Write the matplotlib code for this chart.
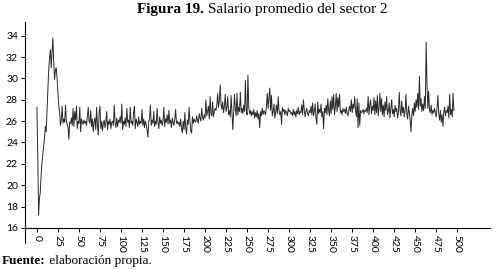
import numpy as np
import matplotlib
matplotlib.use("Agg")
import matplotlib.pyplot as plt

# salario promedio del sector 2 (periodos 0..496)
salario = [
    27.3, 22.7, 17.2, 18.8, 19.3, 21.0, 22.1, 22.9, 23.6, 24.4, 25.5, 25.0, 27.0, 29.0, 30.8,
    31.9, 32.7, 31.0, 32.4, 33.8, 31.5, 29.9, 30.8, 31.0, 30.0, 28.6, 27.5, 26.8, 25.6, 26.1,
    27.4, 25.8, 26.2, 25.9, 27.5, 26.0, 25.7, 25.4, 24.3, 25.9, 25.8, 26.3, 25.6, 27.2, 25.5,
    26.9, 26.1, 27.4, 25.3, 26.0, 25.8, 27.3, 25.0, 26.2, 25.9, 25.7, 26.1, 25.8, 26.0, 25.6,
    26.4, 27.3, 26.0, 25.8, 27.0, 25.5, 26.2, 25.0, 25.9, 26.3, 25.2, 27.3, 25.6, 24.7, 26.8,
    27.4, 25.3, 26.0, 25.1, 25.8, 26.1, 25.4, 25.9, 26.9, 25.2, 26.0, 25.7, 26.2, 25.3, 25.9,
    26.0, 25.6, 27.5, 25.8, 25.4, 26.3, 25.5, 26.1, 25.9, 26.4,
    25.8, 27.6, 25.2, 26.0, 25.7, 26.3, 25.5, 27.2, 25.9, 26.1, 25.4, 27.3, 25.8, 26.0, 25.6,
    26.8, 27.4, 25.3, 26.2, 25.9, 25.5, 26.4, 25.7, 26.0, 25.8,
    27.1, 25.6, 26.2, 25.4, 26.0, 25.7, 25.2, 24.5, 25.9, 26.3, 27.5, 25.6, 26.1, 25.8, 26.9,
    25.5, 26.0, 25.7, 27.2, 25.9, 25.3, 26.4, 25.8, 26.1, 25.6,
    26.0, 27.3, 25.5, 26.2, 25.9, 26.6, 25.7, 27.0, 25.8, 26.1, 25.4, 26.3, 25.9, 25.6, 26.2,
    27.1, 25.8, 26.0, 25.7, 25.9, 25.5, 26.2, 25.3, 24.9, 26.0,
    25.2, 26.8, 25.4, 24.8, 26.1, 25.7, 27.3, 26.0, 25.1, 24.9, 26.4, 25.8, 26.2, 26.0, 25.9,
    26.5, 26.1, 25.8, 26.7, 26.3, 26.0, 27.2, 26.4, 26.1, 26.6,
    26.3, 28.0, 26.5, 26.9, 27.4, 26.2, 28.3, 26.7, 26.5, 27.8, 26.4, 26.9, 27.2, 27.0, 27.5,
    28.6, 27.3, 27.9, 29.4, 27.6, 27.1, 27.8, 26.8, 27.4, 28.5,
    26.9, 27.3, 28.3, 26.6, 27.0, 26.4, 28.4, 26.8, 25.2, 26.9, 28.5, 27.1, 26.5, 28.6, 26.6,
    27.3, 26.9, 28.7, 26.8, 27.2, 26.7, 27.5, 26.9, 29.8, 27.0,
    26.6, 30.3, 27.3, 26.7, 27.0, 26.5, 26.9, 26.6, 27.1, 26.3, 26.8, 26.4, 27.0, 26.2, 26.7,
    25.4, 26.9, 26.5, 27.2, 26.6, 27.0, 26.8, 26.6, 27.4, 28.6,
    27.2, 28.2, 29.1, 27.0, 28.4, 26.5, 26.9, 27.6, 26.3, 26.8, 27.5, 26.7, 28.3, 27.0, 26.6,
    26.9, 25.7, 27.3, 26.9, 27.1, 26.6, 27.0, 26.8, 26.5, 27.2,
    26.9, 27.0, 26.7, 26.8, 26.5, 27.1, 26.6, 26.9, 26.4, 27.0, 26.7, 27.3, 26.6, 26.9, 26.8,
    27.5, 26.6, 28.0, 27.1, 26.4, 26.9, 27.2, 26.7, 26.5, 27.0,
    26.8, 27.4, 26.6, 27.7, 26.5, 26.9, 27.6, 26.3, 25.7, 27.8, 26.7, 27.1, 26.8, 27.6, 26.4,
    26.9, 25.3, 27.2, 26.8, 27.5, 26.6, 28.1, 27.0, 26.5, 27.9,
    26.7, 28.3, 27.1, 28.5, 26.6, 27.4, 28.6, 26.9, 28.2, 27.3, 28.5, 26.8, 27.0, 26.6, 27.2,
    26.9, 27.1, 26.7, 27.3, 26.8, 26.5, 27.0, 27.4, 26.9, 28.0,
    26.8, 27.6, 27.2, 28.3, 27.0, 26.4, 28.1, 25.4, 27.7, 25.6, 27.0, 26.8, 26.9, 27.1, 26.7,
    27.0, 26.9, 27.2, 26.8, 28.3, 26.6, 27.5, 28.0, 26.7, 27.4,
    27.0, 28.2, 26.6, 27.9, 26.8, 28.4, 26.5, 27.3, 28.6, 26.9, 28.1, 26.6, 27.5, 26.4, 27.8,
    27.0, 28.3, 26.6, 26.9, 27.7, 26.3, 27.2, 28.0, 26.7, 27.1,
    26.4, 27.5, 26.9, 27.2, 26.3, 26.8, 28.7, 27.0, 26.5, 27.9, 26.8, 27.3, 26.4, 27.0, 28.5,
    26.7, 26.2, 27.4, 26.8, 26.1, 25.0, 26.6, 27.2, 26.5, 27.7,
    26.9, 28.0, 27.3, 28.6, 27.1, 30.2, 27.4, 28.1, 26.9, 27.6, 27.0, 28.3, 27.2, 33.4, 29.5,
    27.2, 28.8, 27.0, 26.8, 27.5, 26.6, 27.0, 26.8, 27.2, 26.7,
    26.4, 27.3, 28.4, 26.7, 26.1, 27.0, 25.9, 26.6, 25.5, 26.9, 27.3, 26.5, 27.0, 26.8, 27.4,
    26.3, 28.5, 26.6, 27.1, 26.4, 28.6, 27.0,
]
periodos = np.arange(len(salario))
x_ticks = list(range(0, 501, 25))
y_ticks = list(range(16, 35, 2))

fig = plt.figure(figsize=(4.98, 2.70), dpi=100)
ax = fig.add_axes([0.050, 0.156, 0.934, 0.763])

ax.plot(periodos, salario, color="#2a2a2a", linewidth=0.7)

ax.set_xlim(-14.3, 539)
ax.set_ylim(16, 35.3)
ax.set_xticks(x_ticks)
ax.set_xticklabels([str(t) for t in x_ticks], rotation=270, fontsize=7.5,
                   family="Lato")
ax.set_yticks(y_ticks)
ax.set_yticklabels([str(v) for v in y_ticks], fontsize=7.5, family="Lato")
ax.tick_params(axis="both", direction="out", length=3, width=0.7, pad=2)
ax.spines["top"].set_visible(False)
ax.spines["right"].set_visible(False)
for s in ("left", "bottom"):
    ax.spines[s].set_linewidth(0.8)

# el eje vertical se prolonga por debajo del eje horizontal
ax.plot([-14.3, -14.3], [16, 14.6], color="black", linewidth=0.8, clip_on=False)

fig.canvas.draw()
renderer = fig.canvas.get_renderer()


def two_part(x, y, bold, rest, size, ha="left"):
    t1 = fig.text(x, y, bold, fontsize=size, fontweight="bold",
                  family="Liberation Serif", va="center")
    w1 = t1.get_window_extent(renderer).width / fig.bbox.width
    t2 = fig.text(0, y, " " + rest, fontsize=size, family="Liberation Serif",
                  va="center")
    w2 = t2.get_window_extent(renderer).width / fig.bbox.width
    if ha == "center":
        x0 = x - (w1 + w2) / 2
    else:
        x0 = x
    t1.set_x(x0)
    t2.set_x(x0 + w1)


two_part(262 / 498, 1 - 9 / 270, "Figura 19.", "Salario promedio del sector 2", 11,
         ha="center")
two_part(2 / 498, 1 - 261 / 270, "Fuente:", "elaboración propia.", 9.5)

fig.savefig("out.png", dpi=100)
